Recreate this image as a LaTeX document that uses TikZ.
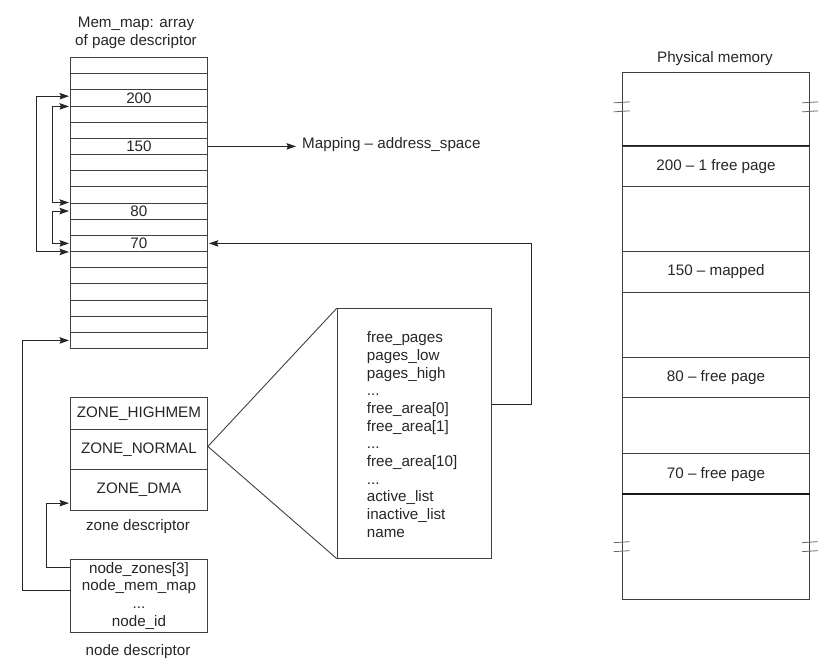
\documentclass[tikz,border=0pt]{standalone}
\usepackage{fontspec}
\setmainfont{Liberation Sans}
\usetikzlibrary{arrows.meta,calc}
\begin{document}
\begin{tikzpicture}[x=1pt,y=-1pt,
  every node/.style={font=\fontsize{15.2}{17.67}\selectfont, text=black!85},
  line/.style={draw=black!75, line width=0.9pt},
  heavy/.style={draw=black!90, line width=1.4pt},
  link/.style={draw=black!85, line width=0.9pt},
  tip/.style={Stealth[length=9.5pt,width=6.5pt,inset=1.5pt]},
  arr/.style={-{Stealth[length=9.5pt,width=6.5pt,inset=1.5pt]}},
  biarr/.style={{Stealth[length=9.5pt,width=6.5pt,inset=1.5pt]}-{Stealth[length=9.5pt,width=6.5pt,inset=1.5pt]}},
  cell/.style={line, minimum width=137pt, minimum height=16.17pt, inner sep=0pt, anchor=north west},
  zbox/.style={line, minimum width=137pt, inner sep=0pt, anchor=north west},
  pcell/.style={line, minimum width=187.6pt, inner sep=0pt, anchor=north west},
  brk/.style={draw=black!60, line width=0.8pt}]
\useasboundingbox (0,0) rectangle (824,669);

% mem_map: array of page descriptors
\node[align=center] (mtitle) at (136,33) {Mem\_map: array\\of page descriptor};
\foreach \i in {0,...,17}
  \node[cell] (m\i) at (70,{57+16.17*\i})
    {\ifcase\i\or\or 200\or\or\or 150\or\or\or\or 80\or\or 70\fi};

% free-list links between page descriptors
\draw[link,biarr] ([xshift=-1pt,yshift=1.7pt]m2.west) -- ++(-32.3,0) |- ([xshift=-1pt]m11.south west);
\draw[link,biarr] ([xshift=-1pt]m2.south west) -- ++(-16.7,0) |- ([xshift=-1pt]m9.north west);
\draw[link,biarr] ([xshift=-1pt]m9.west) -- ++(-16.7,0) |- ([xshift=-1pt]m11.west);

% mapping of page 150
\node[anchor=west, inner sep=0pt] (map) at (302,145) {Mapping -- address\_space};
\draw[link,arr] (m5.east) -- ([xshift=-6pt]m5.east -| map.west);

% zone descriptor
\node[zbox, minimum height=32pt] (z1) at (70,397) {ZONE\_HIGHMEM};
\node[zbox, minimum height=40pt] (z2) at (70,429) {ZONE\_NORMAL};
\node[zbox, minimum height=41pt] (z3) at (70,469) {ZONE\_DMA};
\node (zcap) at (138,527) {zone descriptor};

% node descriptor
\node[line, minimum width=137pt, minimum height=72.7pt, anchor=north west,
      align=center, inner sep=0pt] (nd) at (70,559)
  {node\_zones[3]\\node\_mem\_map\\...\\node\_id};
\node (ncap) at (138,652) {node descriptor};

% zone fields
\node[line, anchor=north west, minimum width=154.3pt, minimum height=249.4pt,
      inner sep=0pt] (fields) at (336.7,308.3) {};
\node[anchor=west, align=left, inner sep=0pt] (flist) at (366.7,434.5)
  {free\_pages\\pages\_low\\pages\_high\\...\\free\_area[0]\\free\_area[1]\\...\\free\_area[10]\\...\\active\_list\\inactive\_list\\name};
\draw[line] (fields.north west) -- ([yshift=3pt]z2.east) -- (fields.south west);

% links
\draw[link,arr] ([yshift=29pt]fields.east) -- ++(39.7,0) |- ([xshift=1pt]m11.east);
\draw[link,arr] ([yshift=28.6pt]nd.west) -- ++(-24,0) |- ([xshift=-1pt,yshift=-13.2pt]z3.west);
\draw[link,arr] ([yshift=5.3pt]nd.west) -- ++(-47.3,0) |- ([xshift=-1pt]m17.west);

% physical memory
\node (ptitle) at (715,58.3) {Physical memory};
\node[pcell, minimum height=73.4pt] (p0) at (621.7,72.3) {};
\node[pcell, minimum height=40pt]   (p1) at (621.7,145.7) {200 -- 1 free page};
\node[pcell, minimum height=65.3pt] (p2) at (621.7,185.7) {};
\node[pcell, minimum height=40.7pt] (p3) at (621.7,251) {150 -- mapped};
\node[pcell, minimum height=65pt]   (p4) at (621.7,291.7) {};
\node[pcell, minimum height=40.6pt] (p5) at (621.7,356.7) {80 -- free page};
\node[pcell, minimum height=56pt]   (p6) at (621.7,397.3) {};
\node[pcell, minimum height=40.7pt] (p7) at (621.7,453.3) {70 -- free page};
\node[pcell, minimum height=105pt]  (p8) at (621.7,494) {};
\draw[heavy] (p1.north west) -- (p1.north east);
\draw[heavy] (p8.north west) -- (p8.north east);

% break marks on the memory column
\foreach \a/\dy in {p0.west/-2.6, p0.east/-2.6, p8.west/-0.3, p8.east/-0.3} {
  \draw[brk] ($(\a)+(-8,\dy-4)$) -- ++(16,-1);
  \draw[brk] ($(\a)+(-8,\dy+5)$) -- ++(16,-1);
}
\end{tikzpicture}
\end{document}
